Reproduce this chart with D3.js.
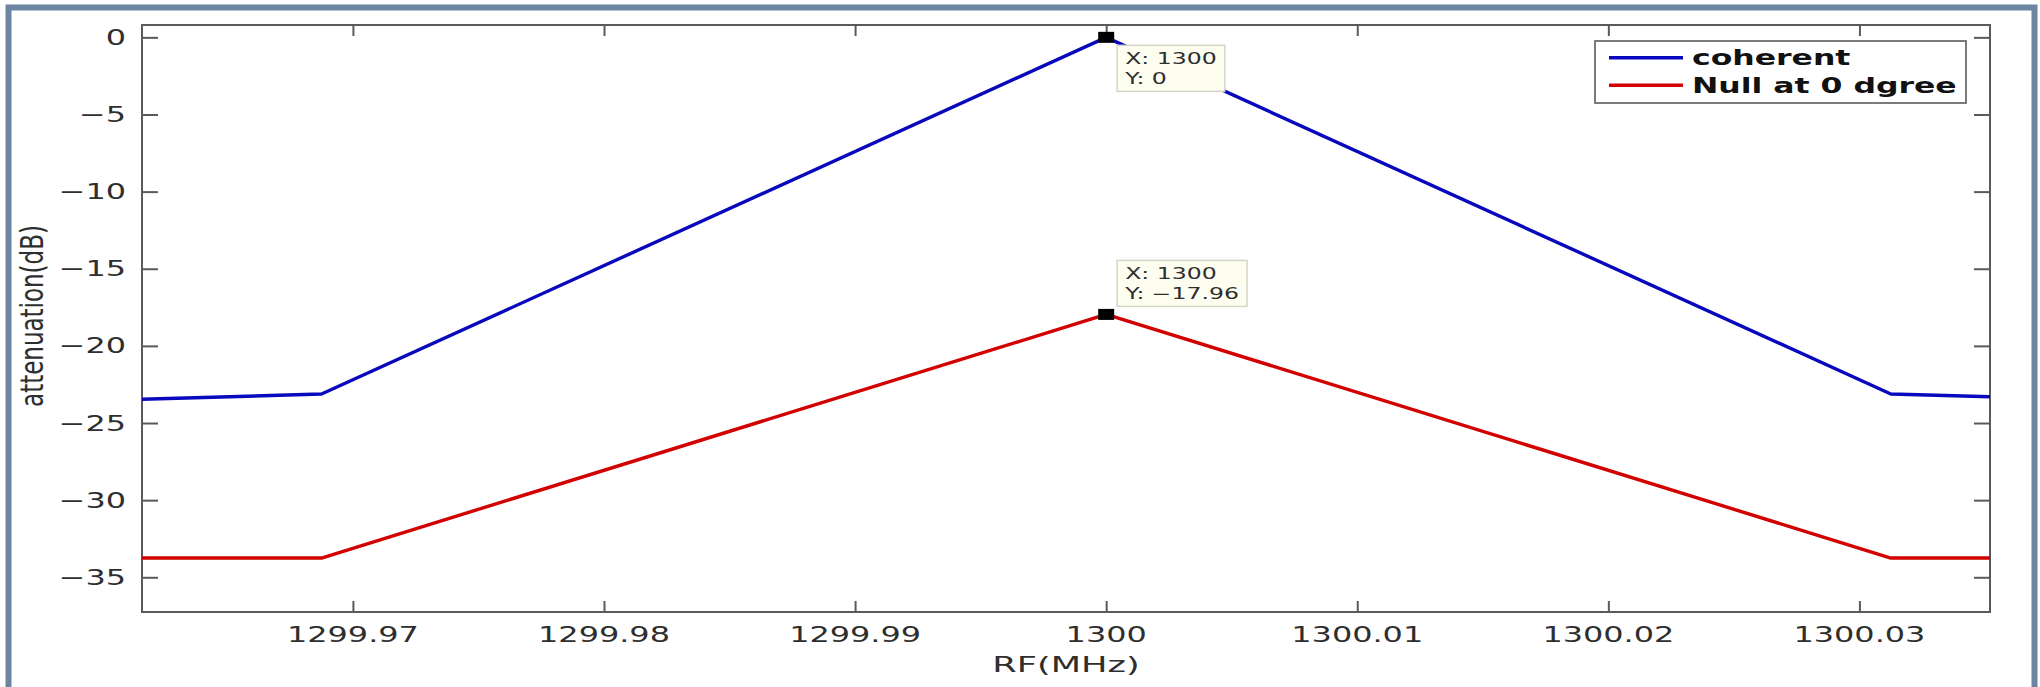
<!DOCTYPE html>
<html>
<head>
<meta charset="utf-8">
<script src="https://cdn.jsdelivr.net/npm/d3@7"></script>
<style>
  html, body { margin: 0; padding: 0; background: #fff; }
  svg { display: block; }
  text { font-family: "DejaVu Sans", sans-serif; }
</style>
</head>
<body>
<svg id="chart" width="2040" height="687"></svg>
<script>
// Frequency sweep around 1300 MHz (RF, MHz)
const freq = [1299.9616, 1299.96875, 1300, 1300.03125, 1300.0352];
// Attenuation of the coherent sum (dB)
const coherent = [-23.46, -23.12, 0, -23.12, -23.30];
// Attenuation with the null steered to 0 degrees (dB)
const nullAt0 = [-33.75, -33.75, -17.96, -33.75, -33.75];

const seriesNames = ["coherent", "Null at 0 dgree"];
const xTicks = [1299.97, 1299.98, 1299.99, 1300, 1300.01, 1300.02, 1300.03];
const xTickLabels = ["1299.97", "1299.98", "1299.99", "1300", "1300.01", "1300.02", "1300.03"];
const yTicks = [0, -5, -10, -15, -20, -25, -30, -35];
const yTickLabels = ["0", "\u22125", "\u221210", "\u221215", "\u221220", "\u221225", "\u221230", "\u221235"];
// Data cursors: [x, y] of the marked points
const tipPoints = [[1300, 0], [1300, -17.96]];
const tipLabels = [["X: 1300", "Y: 0"], ["X: 1300", "Y: \u221217.96"]];

const plot = { left: 142, right: 1990, top: 25, bottom: 612 };
const SX = 1.52; // horizontal glyph stretch of the exported figure

const x = d3.scaleLinear().domain([1299.9616, 1300.0352]).range([plot.left, plot.right]);
const y = d3.scaleLinear().domain([-37.25, 0.80]).range([plot.bottom, plot.top]);

const svg = d3.select("#chart");
const axisColor = "#5a5a5a";
const textColor = "#2e2e2e";
const colors = ["#0808bc", "#d20000"];

// Window frame
svg.append("rect")
  .attr("x", 8.5).attr("y", 7.5)
  .attr("width", 2026).attr("height", 720)
  .attr("fill", "none").attr("stroke", "#6c85a0").attr("stroke-width", 6);

svg.append("defs").append("clipPath").attr("id", "plotClip")
  .append("rect")
  .attr("x", plot.left).attr("y", plot.top)
  .attr("width", plot.right - plot.left).attr("height", plot.bottom - plot.top);

// Inward ticks on all four sides
const xTickLen = 11, yTickLen = 16;
function styleTicks(g) {
  g.select(".domain").remove();
  g.selectAll("line").attr("stroke", axisColor).attr("stroke-width", 2);
}
svg.append("g")
  .attr("transform", `translate(0,${plot.bottom})`)
  .call(d3.axisBottom(x).tickValues(xTicks).tickSizeInner(-xTickLen).tickSizeOuter(0).tickFormat(""))
  .call(styleTicks);
svg.append("g")
  .attr("transform", `translate(0,${plot.top})`)
  .call(d3.axisTop(x).tickValues(xTicks).tickSizeInner(-xTickLen).tickSizeOuter(0).tickFormat(""))
  .call(styleTicks);
svg.append("g")
  .attr("transform", `translate(${plot.left},0)`)
  .call(d3.axisLeft(y).tickValues(yTicks).tickSizeInner(-yTickLen).tickSizeOuter(0).tickFormat(""))
  .call(styleTicks);
svg.append("g")
  .attr("transform", `translate(${plot.right},0)`)
  .call(d3.axisRight(y).tickValues(yTicks).tickSizeInner(-yTickLen).tickSizeOuter(0).tickFormat(""))
  .call(styleTicks);

// Axes box
svg.append("rect")
  .attr("x", plot.left).attr("y", plot.top)
  .attr("width", plot.right - plot.left).attr("height", plot.bottom - plot.top)
  .attr("fill", "none").attr("stroke", axisColor).attr("stroke-width", 2);

// Tick labels
svg.append("g").selectAll("text").data(xTicks).join("text")
  .attr("transform", d => `translate(${x(d)},642) scale(${SX},1)`)
  .attr("text-anchor", "middle")
  .attr("font-size", 21).attr("fill", textColor)
  .text((d, i) => xTickLabels[i]);

svg.append("g").selectAll("text").data(yTicks).join("text")
  .attr("transform", d => `translate(126,${y(d) + 7.5}) scale(${SX},1)`)
  .attr("text-anchor", "end")
  .attr("font-size", 21).attr("fill", textColor)
  .text((d, i) => yTickLabels[i]);

// Axis titles
svg.append("text")
  .attr("transform", `translate(1066,672) scale(1.6,1)`)
  .attr("text-anchor", "middle")
  .attr("font-size", 22).attr("fill", textColor)
  .text("RF(MHz)");

svg.append("text")
  .attr("transform", `translate(43,316) scale(1.4,1) rotate(-90)`)
  .attr("text-anchor", "middle")
  .attr("font-size", 23).attr("fill", textColor)
  .text("attenuation(dB)");

// Curves
const line = d3.line().x((d, i) => x(freq[i])).y(d => y(d));
const curves = svg.append("g").attr("clip-path", "url(#plotClip)");
[coherent, nullAt0].forEach((vals, k) => {
  curves.append("path")
    .attr("d", line(vals))
    .attr("fill", "none")
    .attr("stroke", colors[k])
    .attr("stroke-width", 3.4)
    .attr("stroke-linejoin", "round");
});

// Data cursor markers and their labels
const tipOffsets = [[11, 8], [11, -54]];
tipPoints.forEach((p, i) => {
  const px = x(p[0]), py = y(p[1]);
  const g = svg.append("g");
  const bx = px + tipOffsets[i][0], by = py + tipOffsets[i][1];
  const rect = g.append("rect")
    .attr("x", bx).attr("y", by).attr("height", 46)
    .attr("fill", "#fdfdf0").attr("stroke", "#d6d6c8").attr("stroke-width", 1.5);
  const tg = g.append("g");
  tipLabels[i].forEach((t, j) => {
    tg.append("text")
      .attr("transform", `translate(${bx + 8},${by + 19 + j * 19.5}) scale(${SX},1)`)
      .attr("font-size", 15.5).attr("fill", textColor)
      .text(t);
  });
  const bb = tg.node().getBBox();
  rect.attr("width", bb.x + bb.width - bx + 8);
  svg.append("rect")
    .attr("x", px - 8).attr("y", py - 5.5)
    .attr("width", 16).attr("height", 11)
    .attr("fill", "#000");
});

// Legend
const legend = svg.append("g");
legend.append("rect")
  .attr("x", 1595).attr("y", 41).attr("width", 371).attr("height", 62)
  .attr("fill", "#fff").attr("stroke", axisColor).attr("stroke-width", 1.6);
seriesNames.forEach((name, k) => {
  const ly = 57.7 + k * 27.6;
  legend.append("line")
    .attr("x1", 1609).attr("x2", 1683).attr("y1", ly).attr("y2", ly)
    .attr("stroke", colors[k]).attr("stroke-width", 3.4);
  legend.append("text")
    .attr("transform", `translate(1692,${ly + 7.5}) scale(1.5,1)`)
    .attr("font-size", 21).attr("font-weight", "bold").attr("fill", "#111")
    .text(name);
});
</script>
</body>
</html>
